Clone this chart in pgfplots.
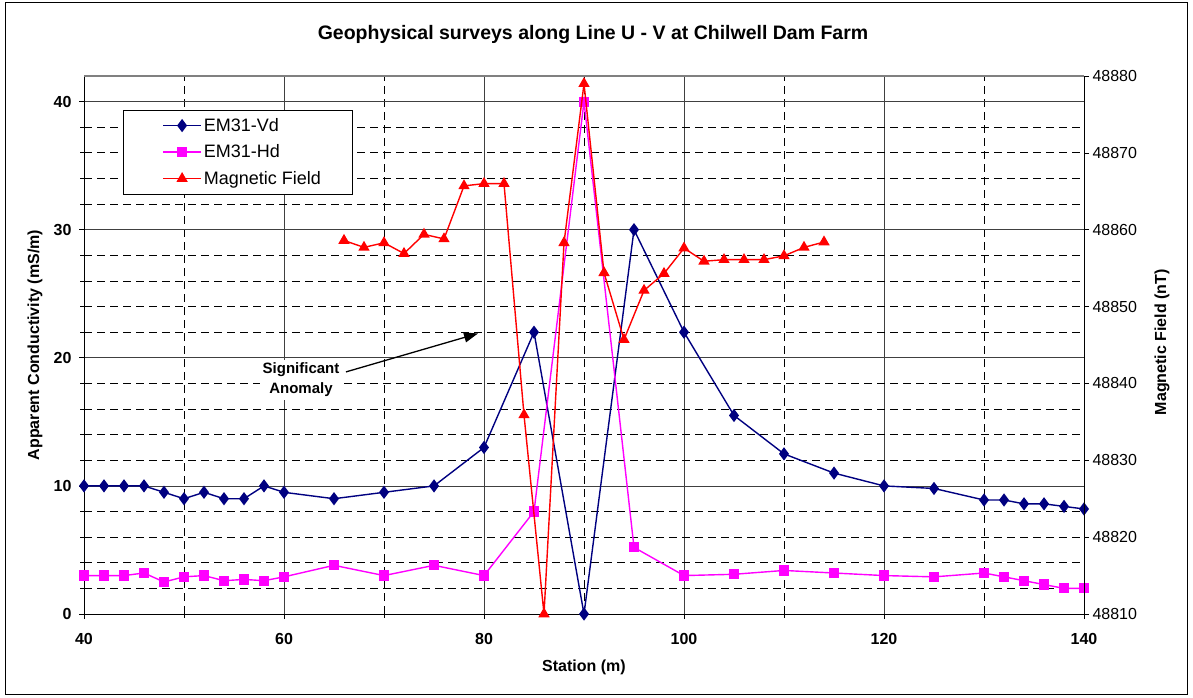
\documentclass[border=0pt]{standalone}
\usepackage{pgfplots}
\pgfplotsset{compat=1.18}
\usepackage{pgfplotstable}
\usepackage{fontspec}
\setmainfont{Liberation Sans}
\usetikzlibrary{arrows.meta}
\definecolor{navyc}{RGB}{0,0,128}
\definecolor{magc}{RGB}{255,0,255}
\definecolor{redc}{RGB}{255,0,0}

\pgfplotstableread{
x y
40 10
42 10
44 10
46 10
48 9.5
50 9
52 9.5
54 9
56 9
58 10
60 9.5
65 9
70 9.5
75 10
80 13
85 22
90 0
95 30
100 22
105 15.5
110 12.5
115 11
120 10
125 9.8
130 8.9
132 8.9
134 8.6
136 8.6
138 8.4
140 8.2
}\tabvd

\pgfplotstableread{
x y
40 3
42 3
44 3
46 3.2
48 2.5
50 2.9
52 3
54 2.6
56 2.7
58 2.6
60 2.9
65 3.8
70 3
75 3.8
80 3
85 8
90 40
95 5.2
100 3
105 3.1
110 3.4
115 3.2
120 3
125 2.9
130 3.2
132 2.9
134 2.6
136 2.3
138 2
140 2
}\tabhd

\pgfplotstableread{
x y
66 48858.6
68 48857.7
70 48858.3
72 48856.9
74 48859.4
76 48858.8
78 48865.7
80 48866
82 48866
84 48835.9
86 48810
88 48858.3
90 48879
92 48854.4
94 48845.7
96 48852.1
98 48854.3
100 48857.6
102 48855.9
104 48856.1
106 48856.1
108 48856.1
110 48856.6
112 48857.7
114 48858.4
}\tabmag

\pgfplotsset{
  base/.style={
    scale only axis, width=1000pt, height=538pt,
    at={(84pt,83pt)}, anchor=south west,
    xmin=40, xmax=140,
    clip=false,
    /pgf/number format/assume math mode=true,
    /pgf/number format/set thousands separator={},
    tick align=outside, major tick length=5pt, minor tick length=4pt,
    tick style={black, line width=0.8pt},
    axis line style={black, line width=1pt},
  }
}

\begin{document}
\begin{tikzpicture}
\path[use as bounding box] (0,0) rectangle (1193pt,697pt);
\draw[line width=1pt] (5pt,3pt) rectangle (1187pt,694pt);
\node[font=\fontsize{19.5}{22}\selectfont\bfseries] at (593pt,662pt) {Geophysical surveys along Line U - V at Chilwell Dam Farm};

\begin{axis}[base,
  ymin=0, ymax=42,
  ytick={0,10,20,30,40},
  minor y tick num=4,
  xtick={40,60,...,140},
  minor x tick num=1,
  xtick pos=left, ytick pos=left,
  grid=both,
  major grid style={black!75, line width=0.8pt},
  minor grid style={black, line width=0.8pt, dash pattern=on 8pt off 5pt},
  ticklabel style={font=\fontsize{16}{18}\selectfont\bfseries},
  xticklabel style={yshift=-11pt},
  yticklabel style={xshift=-4pt},
  xlabel={Station (m)},
  ylabel={Apparent Conductivity (mS/m)},
  label style={font=\fontsize{16}{18}\selectfont\bfseries},
  xlabel style={at={(axis description cs:0.5,-0.0995)}, anchor=center},
  ylabel style={at={(axis description cs:-0.049,0.5)}, anchor=center},
]
\draw[gray, line width=1.5pt] (rel axis cs:0,1) -- (rel axis cs:1,1);
\addplot[navyc, line width=1.4pt, mark=diamond*, mark size=5.5pt, mark options={solid, fill=navyc}] table[x=x,y=y] {\tabvd};
\addplot[magc, line width=1.4pt, mark=square*, mark size=4.4pt, mark options={solid, fill=magc}] table[x=x,y=y] {\tabhd};
\node[fill=white, font=\fontsize{15}{20}\selectfont\bfseries, align=center, inner sep=3pt] at (axis cs:61.7,18.27) {Significant\\Anomaly};
\draw[black, line width=1.3pt, -{Triangle[length=14pt,width=10pt]}] (axis cs:66.2,18.9) -- (axis cs:79.4,21.9);
\end{axis}

\begin{axis}[base,
  ymin=48810, ymax=48880,
  ytick={48810,48820,...,48880},
  scaled y ticks=false,
  yticklabel={\pgfmathprintnumber[fixed,precision=0,set thousands separator={}]{\tick}},
  axis y line*=right,
  axis x line=none,
  yticklabel style={font=\fontsize{16}{18}\selectfont},
  ylabel={Magnetic Field (nT)},
  ylabel style={font=\fontsize{16}{18}\selectfont\bfseries, at={(axis description cs:1.078,0.505)}, anchor=center},
  legend style={at={(axis description cs:0.039,0.937)}, anchor=north west,
    draw=black, line width=0.8pt, fill=white,
    font=\fontsize{18}{20}\selectfont,
    row sep=8pt, inner xsep=30pt, inner ysep=6pt,
    cells={anchor=west}},
  legend image code/.code={%
    \path (-9pt,0pt);
    \draw[mark repeat=2,mark phase=2,#1] plot coordinates {(0pt,0pt) (19pt,0pt) (38pt,0pt)};},
]
\addlegendimage{navyc, line width=1.4pt, mark=diamond*, mark size=5.5pt, mark options={solid, fill=navyc}}
\addlegendentry{EM31-Vd}
\addlegendimage{magc, line width=1.4pt, mark=square*, mark size=4.4pt, mark options={solid, fill=magc}}
\addlegendentry{EM31-Hd}
\addplot[redc, line width=1.4pt, mark=triangle*, mark size=5.2pt, mark options={solid, fill=redc}] table[x=x,y=y] {\tabmag};
\addlegendentry{Magnetic Field}
\end{axis}
\end{tikzpicture}
\end{document}
